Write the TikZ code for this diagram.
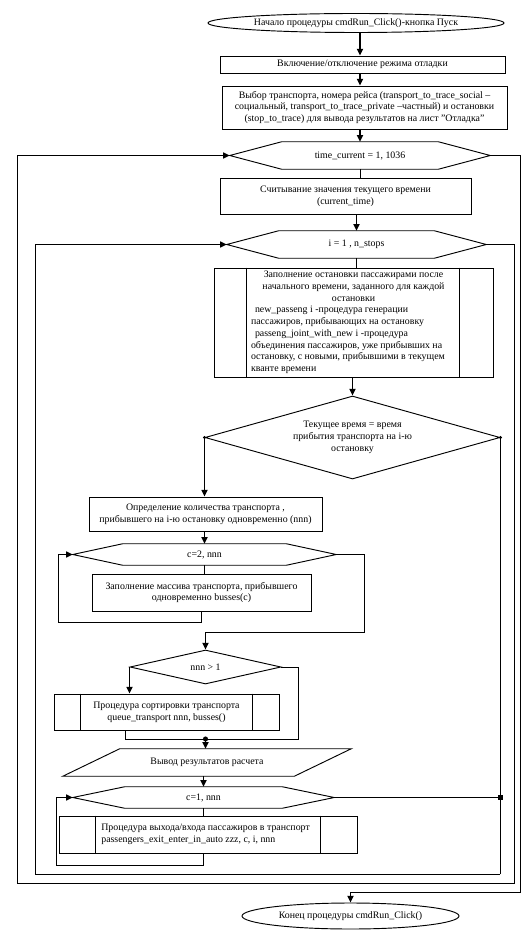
\documentclass[tikz,border=0pt]{standalone}
\usepackage{fontspec}
\setmainfont{Liberation Serif}
\usetikzlibrary{arrows.meta,shapes.geometric,calc}
\newcommand\hexout[2]{\draw[line width=0.7pt] ($(#1.north west)+(#2,0)$) -- ($(#1.north east)+(-#2,0)$) -- (#1.east) -- ($(#1.south east)+(-#2,0)$) -- ($(#1.south west)+(#2,0)$) -- (#1.west) -- cycle;}
\newcommand\predef[3]{\draw[line width=0.7pt] ($(#1.north west)+(#2,0)$) -- ($(#1.south west)+(#2,0)$); \draw[line width=0.7pt] ($(#1.north east)+(-#3,0)$) -- ($(#1.south east)+(-#3,0)$);}
\begin{document}
\begin{tikzpicture}[x=0.75pt,y=-0.75pt,
  font=\fontsize{7.4pt}{8.8pt}\selectfont,
  wh/.style 2 args={minimum width=#1*0.75pt, minimum height=#2*0.75pt},
  thinline/.style={line width=0.7pt},
  flow/.style={line width=1.4pt,-{Triangle[length=5pt,width=4.5pt]}},
  loopin/.style={line width=1.1pt,-{Triangle[length=5pt,width=4.5pt]}},
  box/.style={draw,line width=0.7pt,rectangle,inner sep=0pt,align=center},
  term/.style={draw,line width=0.7pt,ellipse,inner sep=0pt},
  dec/.style={draw,line width=0.7pt,diamond,inner sep=0pt,align=center},
  shapeonly/.style={inner sep=0pt,align=center},
]
\useasboundingbox (0,0) rectangle (531,930);
\fill[white] (0,0) rectangle (531,930);

\node[term, wh={296}{19}] (S) at (356,23) {Начало процедуры cmdRun\_Click()-кнопка Пуск};
\node[box, wh={285}{17}] (B1) at (362.5,64.5) {Включение/отключение режима отладки};
\node[box, wh={285}{43}] (B2) at (364.5,107.5) {Выбор транспорта, номера рейса (transport\_to\_trace\_social –\\социальный, transport\_to\_trace\_private –частный) и остановки\\(stop\_to\_trace) для вывода результатов на лист \char34Отладка\char34};
\node[shapeonly, wh={260}{27}] (T) at (360,155.5) {time\_current = 1, 1036};
\hexout{T}{52}
\node[box, wh={251}{36}] (B3) at (345.5,196) {Считывание значения текущего времени\\(current\_time)};
\node[shapeonly, wh={259}{27}] (I) at (356.5,244.5) {i = 1 , n\_stops};
\hexout{I}{52}
\node[box, wh={279}{109}, align=left] (P1) at (353.5,322.5) {\makebox[153.75pt]{Заполнение остановки пассажирами после}\\
\makebox[153.75pt]{начального времени, заданного для каждой}\\
\makebox[153.75pt]{остановки}\\
\hspace*{3pt}new\_passeng i -процедура генерации\\
пассажиров, прибывающих на остановку\\
\hspace*{3pt}passeng\_joint\_with\_new i -процедура\\
объединения пассажиров, уже прибывших на\\
остановку, с новыми, прибывшими в текущем\\
кванте времени};
\predef{P1}{33}{34}
\node[dec, wh={295}{83}, aspect=3.55] (D1) at (352.5,437.5) {Текущее время = время\\прибытия транспорта на i-ю\\остановку};
\node[box, wh={233}{34}] (B5) at (205.5,514) {Определение количества транспорта ,\\прибывшего на i-ю остановку одновременно (nnn)};
\node[shapeonly, wh={263}{21}] (H2) at (204.5,554.5) {c=2, nnn};
\hexout{H2}{50}
\node[box, wh={219}{37}] (B6) at (201.5,592.5) {Заполнение массива транспорта, прибывшего\\одновременно busses(c)};
\node[dec, wh={151}{34}, aspect=4.44] (D2) at (205.5,667) {nnn > 1};
\node[box, wh={225}{36}] (P2) at (166.5,712) {Процедура сортировки транспорта\\queue\_transport nnn, busses()};
\predef{P2}{27}{27}
\node[shapeonly, wh={288}{27}] (O) at (207,762.5) {Вывод результатов расчета};
\draw[thinline] ($(O.north west)+(57,0)$) -- (O.north east) -- ($(O.south east)+(-57,0)$) -- (O.south west) -- cycle;
\node[shapeonly, wh={261}{21}] (H1) at (203.5,797.5) {c=1, nnn};
\hexout{H1}{52}
\node[box, wh={298}{37}, align=left] (P3) at (208,834.5) {\makebox[160pt][l]{Процедура выхода/входа пассажиров в транспорт}\\passengers\_exit\_enter\_in\_auto zzz, c, i, nnn};
\predef{P3}{37}{37}
\node[term, wh={217}{26}] (E) at (350.5,916) {Конец процедуры cmdRun\_Click()};

% main flow
\draw[flow] (S.south -| T.north) -- (B1.north -| T.north);
\draw[flow] (B1.south -| T.north) -- (B2.north -| T.north);
\draw[flow] (B2.south -| T.north) -- (T.north);
\draw[thinline] (T.south) -- (T.south |- B3.north);
\draw[flow] (B3.south -| I.north) -- (I.north);
\draw[thinline] (I.south) -- (I.south |- P1.north);
\draw[flow] (P1.south -| D1.north) -- (D1.north);
\draw[flow] (D1.west) -- (D1.west |- B5.north);
\fill (D1.west) circle[radius=1.2pt];
\fill (D1.east) circle[radius=1.2pt];
\draw[flow] (B5.south -| H2.north) -- (H2.north);
\draw[thinline] (H2.south) -- (H2.south |- B6.north);
% loop c=2
\coordinate (c2b) at (58,622);
\draw[thinline] (B6.south) |- (c2b) -- (c2b |- H2.west);
\draw[loopin] (c2b |- H2.west) -- (H2.west);
% exit c=2
\coordinate (c2e) at (364,632);
\draw[thinline] (H2.east) -| (c2e) -- (c2e -| D2.north);
\draw[flow] (c2e -| D2.north) -- (D2.north);
% nnn > 1
\draw[flow] (D2.west) -- (D2.west |- P2.north);
\coordinate (J) at (205.5,739);
\coordinate (m1) at (125,739);
\coordinate (m2) at (298,739);
\draw[thinline] (P2.south -| m1) -- (m1) -- (m2) -- (m2 |- D2.east) -- (D2.east);
\fill (J) circle[radius=1.9pt];
\draw[flow] (J) -- (J |- O.north);
\draw[flow] (O.south -| H1.north) -- (H1.north);
\draw[thinline] (H1.south) -- (H1.south |- P3.north);
% loop c=1
\coordinate (c1b) at (56,865);
\draw[thinline] (P3.south -| H1.south) |- (c1b) -- (c1b |- H1.west);
\draw[loopin] (c1b |- H1.west) -- (H1.west);
% exit c=1 and "no" branch
\coordinate (Q) at (D1.east |- H1.east);
\draw[thinline] (H1.east) -- (Q);
\draw[thinline] (D1.east) -- (Q);
\fill ($(Q)+(-2.2,-2.2)$) rectangle ($(Q)+(2.2,2.2)$);
\coordinate (iL) at (35,874);
\draw[line width=1.4pt] (Q) -- (Q |- iL);
\draw[thinline] (Q |- iL) -- (iL) -- (iL |- I.west);
\draw[loopin] (iL |- I.west) -- (I.west);
% exit i
\coordinate (iR) at (514,883);
\coordinate (tL) at (17,883);
\draw[thinline] (I.east) -| (iR) -- (tL) -- (tL |- T.west);
\draw[loopin] (tL |- T.west) -- (T.west);
% exit time
\coordinate (tR) at (520,892);
\draw[thinline] (T.east) -| (tR) -- (tR -| E.north);
\draw[flow] (tR -| E.north) -- (E.north);
\end{tikzpicture}
\end{document}
